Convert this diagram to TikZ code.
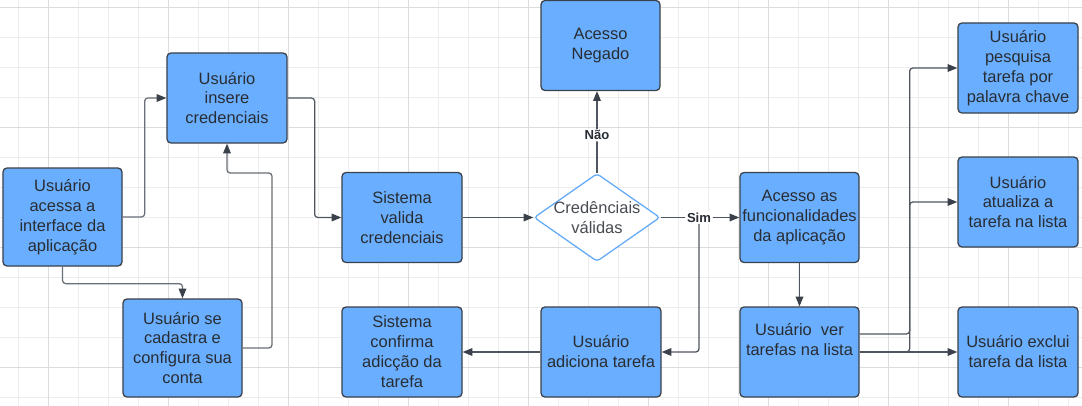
\documentclass[tikz,border=0pt]{standalone}
\usepackage{fontspec}
\setmainfont{Liberation Sans}
\usetikzlibrary{shapes.geometric,arrows.meta}
\definecolor{boxblue}{HTML}{6AAFFF}
\definecolor{boxline}{HTML}{3A414A}
\definecolor{txt}{HTML}{282C33}
\definecolor{wire}{HTML}{4F565F}
\definecolor{gridminor}{HTML}{EDEDED}
\definecolor{gridmajor}{HTML}{DCDCDC}
\definecolor{dialine}{HTML}{62AAF8}
\tikzset{
  box/.style={draw=boxline, fill=boxblue, line width=0.9pt, rounded corners=1mm,
    minimum width=30mm, minimum height=22.5mm, inner sep=0pt, align=center,
    text=txt, font=\fontsize{11.7}{14.2}\selectfont},
  tallbox/.style={box, minimum height=24.5mm},
  decision/.style={diamond, aspect=1.3, draw=dialine, fill=white, line width=0.9pt,
    rounded corners=0.8mm, minimum width=31.5mm, inner sep=-2.2pt, align=center,
    text=txt!85, font=\fontsize{11.7}{14.2}\selectfont},
  flow/.style={draw=wire, line width=0.9pt, rounded corners=0.8mm,
    -{Triangle[length=7pt,width=5.5pt]}, arrows={[color=boxline]}},
  lbl/.style={fill=white, inner sep=1pt, text=txt, font=\fontsize{9.3}{11}\selectfont\bfseries}
}
\begin{document}
\begin{tikzpicture}[x=0.25mm,y=-0.25mm]
\useasboundingbox (0,0) rectangle (1082,406);
%grid
\foreach \x in {18,48,...,1078} {
	\draw[gridminor,line width=0.7pt] (\x,0) -- (\x,406); }
\foreach \y in {7,37,...,397} {
	\draw[gridminor,line width=0.7pt] (0,\y) -- (1082,\y); }
\foreach \x in {48,168,...,1008} {
	\draw[gridmajor,line width=0.7pt] (\x,0) -- (\x,406); }
\foreach \y in {7,127,247,367} {
	\draw[gridmajor,line width=0.7pt] (0,\y) -- (1082,\y); }
%left part
\node[tallbox, minimum width=29.75mm] (acessa) at (62.5,217) {Usuário\\acessa a\\interface da\\aplicação};
\node[box] (insere) at (227,98) {Usuário\\insere\\credenciais};
\node[tallbox, minimum width=29.75mm] (cadastra) at (182.5,348) {Usuário se\\cadastra e\\configura sua\\conta};
\node[box] (valida) at (402,217.5) {Sistema\\valida\\credenciais};
\node[box] (confirma) at (402,352) {Sistema\\confirma\\adicção da\\tarefa};
%decision
\node[decision] (cred) at (597,217.5) {Credênciais\\válidas};
\node[box, minimum width=29.75mm] (negado) at (600.5,45.5) {Acesso\\Negado};
\node[box] (adiciona) at (601,352) {Usuário\\adiciona tarefa};
%right part
\node[box, minimum width=29.75mm] (funcs) at (799.5,217.5) {Acesso as\\funcionalidades\\da aplicação};
\node[box, minimum width=29.75mm] (ver) at (799.5,352) {Usuário\ \ ver\\tarefas na lista\\[3pt]};
\node[box] (pesquisa) at (1018,68) {Usuário\\pesquisa\\tarefa por\\palavra chave};
\node[box] (atualiza) at (1018,202) {Usuário\\atualiza a\\tarefa na lista};
\node[box] (exclui) at (1018,352) {Usuário exclui\\tarefa da lista};
%connectors
\draw[flow, draw=wire!85] (acessa.east) -- ++(22,0) |- (insere.west);
\draw[flow, draw=wire!85] (acessa.south) -- ++(0,17) -| (cadastra.north);
\draw[flow, draw=wire!85] (cadastra.east) -| (272,173) -| (insere.south);
\draw[flow] (insere.east) -- ++(27,0) |- (valida.west);
\draw[flow] (valida) -- (cred);
\draw[flow] (cred.north) -- (cred.north |- negado.south) node[lbl, pos=0.46] {Não};
\node[lbl] (sim) at (699,217.5) {Sim};
\draw[draw=wire, line width=0.9pt] (cred.east) -- (sim);
\draw[flow] (sim) -- (funcs.west);
\draw[flow] (sim) |- (adiciona.east);
\draw[flow] (adiciona) -- (confirma);
\draw[flow] (funcs) -- (ver);
\draw[flow] ([yshift=4.5mm]ver.east) -- ++(50,0) |- (pesquisa.west);
\draw[flow] (ver.east) -- ++(50,0) |- (atualiza.west);
\draw[flow] (ver) -- (exclui);
\end{tikzpicture}
\end{document}
